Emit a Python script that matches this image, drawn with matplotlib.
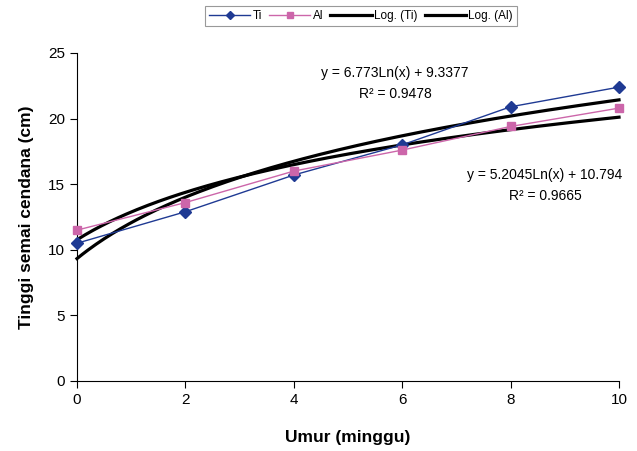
import numpy as np
import matplotlib
matplotlib.use("Agg")
import matplotlib.pyplot as plt

plt.rcParams['font.family'] = ['Liberation Sans', 'DejaVu Sans']

umur = [0, 2, 4, 6, 8, 10]
ti = [10.5, 12.9, 15.7, 18.0, 20.9, 22.4]
al = [11.5, 13.6, 16.0, 17.6, 19.4, 20.8]
eq_ti = "y = 6.773Ln(x) + 9.3377"
r2_ti = "R² = 0.9478"
eq_al = "y = 5.2045Ln(x) + 10.794"
r2_al = "R² = 0.9665"

fig = plt.figure(figsize=(6.37, 4.51), dpi=100)
ax = fig.add_axes([77/637, 70/451, (619-77)/637, (381-53)/451])

c_ti = '#1f3a93'
c_al = '#cc66aa'

ax.plot(umur, ti, color=c_ti, lw=1, marker='D', ms=6, label='Ti', zorder=4, clip_on=False)
ax.plot(umur, al, color=c_al, lw=1, marker='s', ms=6, label='Al', zorder=4, clip_on=False)

# Excel-style log trendlines (x = point index 1..n)
idx = np.arange(1, len(umur) + 1)
xs = np.linspace(umur[0], umur[-1], 200)
ixs = xs / (umur[1] - umur[0]) + 1
for ys, lab in [(ti, 'Log. (Ti)'), (al, 'Log. (Al)')]:
    b, a = np.polyfit(np.log(idx), ys, 1)
    ax.plot(xs, b * np.log(ixs) + a, color='black', lw=2.3, label=lab, zorder=3, clip_on=False)

ax.set_xlim(0, 10)
ax.set_ylim(0, 25)
ax.set_xticks(range(0, 11, 2))
ax.set_yticks(range(0, 26, 5))
for s in ['top', 'right']:
    ax.spines[s].set_visible(False)
ax.tick_params(direction='out', labelsize=11, length=5, width=0.8)
ax.set_xlabel('Umur (minggu)', fontsize=12.5, fontweight='bold', labelpad=17)
ax.set_ylabel('Tinggi semai cendana (cm)', fontsize=12.5, fontweight='bold', labelpad=10)

ax.text(395/637, (451-73)/451, eq_ti, transform=fig.transFigure, ha='center', va='center', fontsize=10)
ax.text(395/637, (451-94)/451, r2_ti, transform=fig.transFigure, ha='center', va='center', fontsize=10)
ax.text(545/637, (451-175)/451, eq_al, transform=fig.transFigure, ha='center', va='center', fontsize=10)
ax.text(545/637, (451-196)/451, r2_al, transform=fig.transFigure, ha='center', va='center', fontsize=10)

leg = fig.legend(loc='center', bbox_to_anchor=(361/637, (451-16)/451), ncol=4, fontsize=8.5,
                 frameon=True, fancybox=False, edgecolor='#808080', handlelength=3.5,
                 handletextpad=0.2, columnspacing=0.6, borderpad=0.3, markerscale=0.7)
leg.get_frame().set_linewidth(0.8)

fig.savefig('out.png', dpi=100)
